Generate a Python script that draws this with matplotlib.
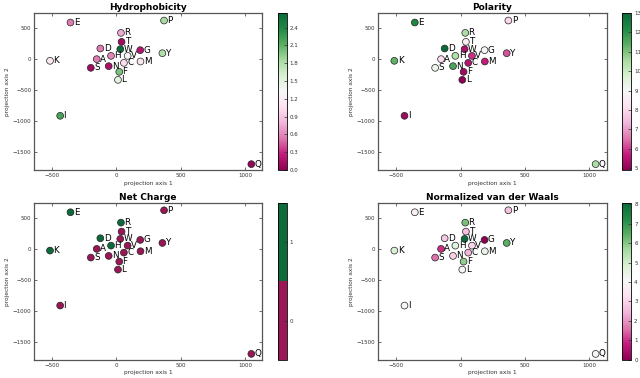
import numpy as np
import matplotlib
matplotlib.use('Agg')
import matplotlib.pyplot as plt
from matplotlib.colors import LinearSegmentedColormap, ListedColormap
from matplotlib.ticker import FormatStrFormatter

# amino acids and their 2D projection
letters = ['A', 'R', 'N', 'D', 'C', 'Q', 'E', 'G', 'H', 'I',
           'L', 'K', 'M', 'F', 'P', 'S', 'T', 'W', 'Y', 'V']
proj1 = [-152, 36, -59, -124, 59, 1049, -356, 186, -41, -436,
         13, -515, 188, 23, 371, -198, 41, 31, 358, 88]
proj2 = [-5, 419, -118, 167, -65, -1699, 586, 140, 48, -919,
         -339, -32, -43, -210, 618, -145, 274, 156, 91, 48]

# properties
hydrophobicity = [0.55, 0.75, 0.15, 0.55, 1.05, 0.05, 0.55, 0.2, 0.6, 2.2,
                  1.5, 1.15, 1.1, 2.0, 1.85, 0.1, 0.1, 2.65, 1.8, 1.3]
polarity = [8.1, 10.5, 11.6, 13.0, 5.5, 10.5, 12.3, 9.0, 10.4, 5.2,
            4.9, 11.3, 5.7, 5.2, 8.0, 9.2, 8.6, 5.4, 6.2, 5.9]
net_charge = [0, 1, 0, 1, 0, 0, 1, 0, 1, 0,
              0, 1, 0, 0, 0, 0, 0, 0, 0, 0]
vdw = [1.00, 6.13, 2.95, 2.78, 2.43, 3.95, 3.78, 0.00, 4.66, 4.00,
       4.00, 4.77, 4.43, 5.89, 2.67, 1.60, 2.60, 8.08, 6.47, 3.00]

titles = ['Hydrophobicity', 'Polarity', 'Net Charge', 'Normalized van der Waals']
values = [hydrophobicity, polarity, net_charge, vdw]
cb_ticks = [np.arange(0, 2.5, 0.3), np.arange(5, 14, 1), [0, 1], np.arange(0, 9, 1)]

# pink -> white -> green map like the one in the picture
pg = LinearSegmentedColormap.from_list('pg', [
    '#8e0152', '#c51b7d', '#de77ae', '#f1b6da', '#fde0ef', '#f7f7f7',
    '#d9f0d3', '#a6dba0', '#5aae61', '#1f8a45', '#0a6b3a'])
two = ListedColormap(['#9a1656', '#0c6b3a'])

fig = plt.figure(figsize=(6.4, 3.78), dpi=100)

# axes boxes in figure fraction
boxes = [(0.053, 0.550), (0.591, 0.550), (0.053, 0.048), (0.591, 0.048)]
w, h = 0.357, 0.416

for i in range(4):
    left, bottom = boxes[i]
    ax = fig.add_axes([left, bottom, w, h])
    cax = fig.add_axes([left + 0.381, bottom, 0.0145, h])

    if titles[i] == 'Net Charge':
        cmap = two
        vmin, vmax = -0.5, 1.5
    else:
        cmap = pg
        vmin, vmax = min(values[i]), max(values[i])
        if titles[i] == 'Hydrophobicity':
            vmin = 0.0

    sc = ax.scatter(proj1, proj2, c=values[i], cmap=cmap, vmin=vmin, vmax=vmax,
                    s=24, edgecolors='#222222', linewidths=0.5, zorder=3)
    for lab, px, py in zip(letters, proj1, proj2):
        ax.annotate(lab, (px, py), xytext=(2.4, 0), textcoords='offset points',
                    va='center', ha='left', fontsize=6.3, zorder=4)

    ax.set_xlim(-640, 1135)
    ax.set_ylim(-1795, 742)
    ax.set_xticks([-500, 0, 500, 1000])
    ax.set_yticks([-1500, -1000, -500, 0, 500])
    ax.tick_params(direction='in', top=True, right=True, labelsize=4,
                   length=2.5, width=0.5, pad=2, colors='#333333')
    for sp in ax.spines.values():
        sp.set_color('#555555')
        sp.set_linewidth(0.9)
    ax.set_xlabel('projection axis 1', fontsize=4.2, labelpad=2, color='#333333')
    ax.set_ylabel('projection axis 2', fontsize=4.2, labelpad=2, color='#333333')
    ax.set_title(titles[i], fontsize=6.5, fontweight='bold', pad=2)

    cb = fig.colorbar(sc, cax=cax, ticks=cb_ticks[i])
    if titles[i] == 'Hydrophobicity':
        cb.ax.yaxis.set_major_formatter(FormatStrFormatter('%.1f'))
    cb.ax.tick_params(labelsize=4, length=2, width=0.5, direction='in', pad=2,
                      colors='#333333')
    cb.outline.set_linewidth(0.6)

fig.savefig('out.png', dpi=100)
